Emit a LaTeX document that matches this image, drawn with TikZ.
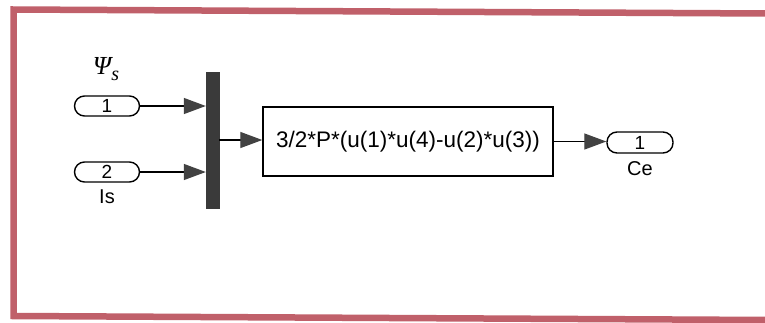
\documentclass[tikz,border=0pt]{standalone}
\usepackage{fontspec}
\setmainfont{Liberation Sans}
\newfontfamily\psifont{Liberation Serif}
\usetikzlibrary{arrows.meta}
\definecolor{frame}{RGB}{192,96,106}
\definecolor{darkbar}{RGB}{58,58,58}
\definecolor{tipgray}{RGB}{66,66,66}
\tikzset{
  port/.style={draw, line width=1.4pt, rounded corners=10pt, minimum width=65pt, minimum height=20pt, inner sep=0pt, font=\fontsize{19}{19}\selectfont},
  fcnblock/.style={draw, line width=1.4pt, minimum width=290pt, minimum height=69pt, inner sep=0pt, font=\fontsize{22.5}{22.5}\selectfont},
  muxbar/.style={fill=darkbar, draw=darkbar, minimum width=13pt, minimum height=136pt, inner sep=0pt},
  sig/.style={line width=1.3pt, -{Triangle[length=22pt,width=16pt,color=tipgray,fill=tipgray]}},
  lbl/.style={font=\fontsize{20}{20}\selectfont, inner sep=0pt}
}
\begin{document}
\begin{tikzpicture}[x=1pt,y=-1pt]
\useasboundingbox (0,0) rectangle (765,322);
\draw[frame, line width=6.5pt, line join=miter] (768,13.5) -- (13.5,9.5) -- (13.5,316) -- (768,320);
\node[port] (in1) at (107,106) {1};
\node[port] (in2) at (107,172) {2};
\node[lbl] (is) at (107,197) {Is};
\node[inner sep=0pt, font=\fontsize{26}{26}\selectfont\psifont\itshape] (psi) at (106,69) {Ψ\raisebox{-6pt}{\fontsize{20}{20}\selectfont s}};
\node[muxbar] (mux) at (212.5,140) {};
\node[fcnblock] (fcn) at (408,141.5) {3/2*P*(u(1)*u(4)-u(2)*u(3))};
\node[port, minimum width=66pt, minimum height=21pt] (out1) at (640,142.5) {1};
\node[lbl] (ce) at (640,169) {Ce};
\draw[sig] (in1.east) -- (in1.east -| mux.west);
\draw[sig] (in2.east) -- (in2.east -| mux.west);
\draw[sig] (mux.east) -- (mux.east -| fcn.west);
\draw[sig] (fcn.east) -- (fcn.east -| out1.west);
\end{tikzpicture}
\end{document}
